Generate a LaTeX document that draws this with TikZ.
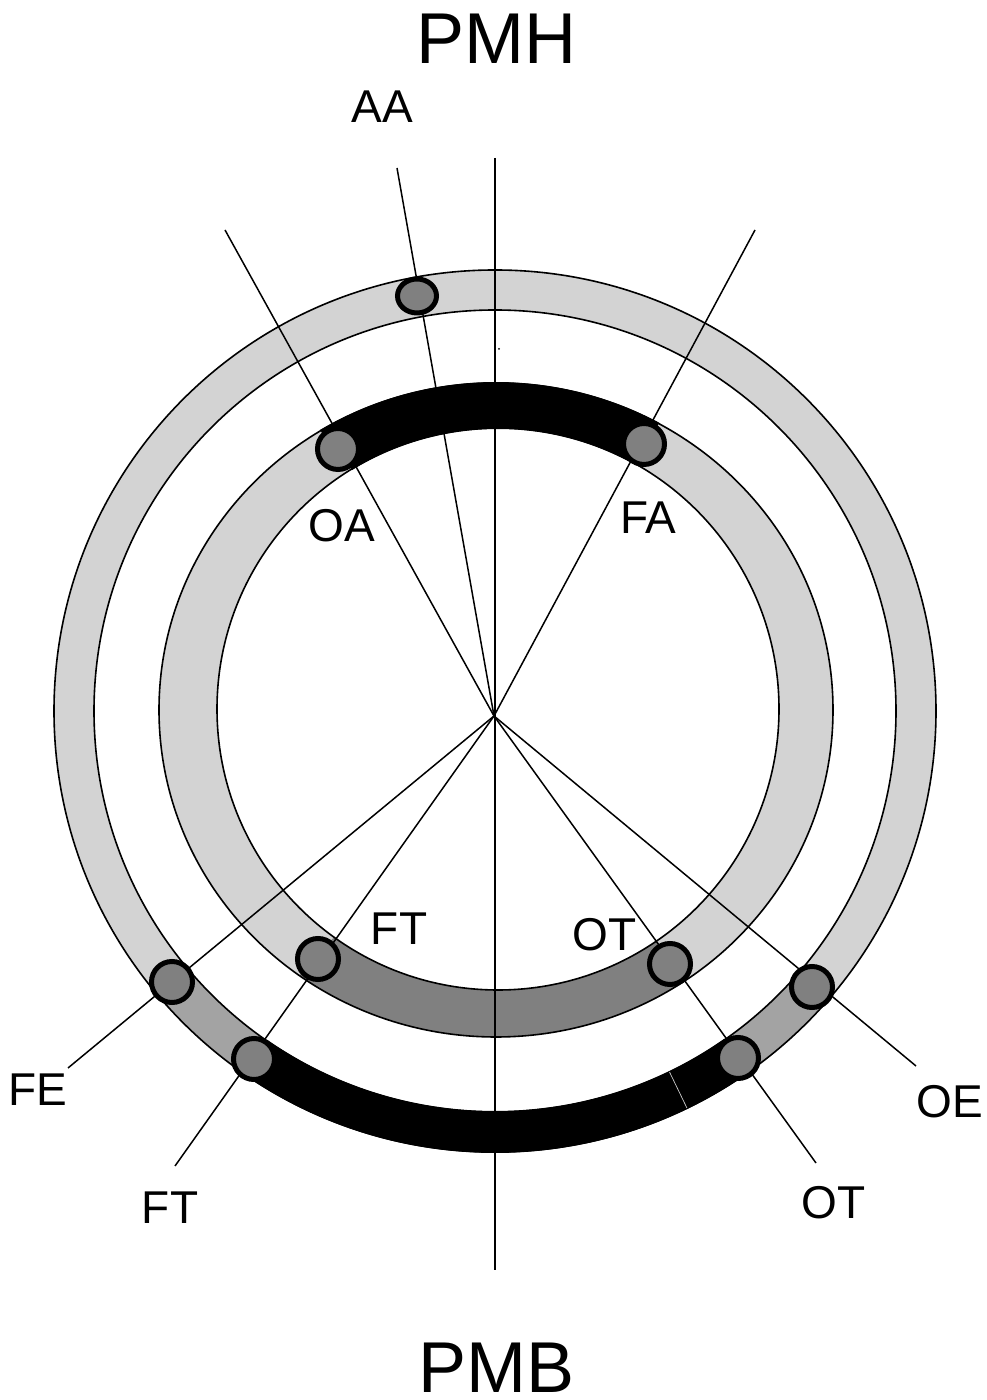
\documentclass[tikz,border=0pt]{standalone}
\usepackage{fontspec}
\setmainfont{Liberation Sans}
\usetikzlibrary{shapes.geometric,calc}
\definecolor{lg}{HTML}{D3D3D3}
\definecolor{mg}{HTML}{A3A3A3}
\definecolor{dg}{HTML}{808080}
\begin{document}
\begin{tikzpicture}[x=1pt,y=1pt,
 ringline/.style={draw=black,line width=1.6pt},
 ray/.style={draw=black,line width=1.5pt},
 dotc/.style={circle,draw=black,line width=5pt,fill=dg,minimum size=41pt,inner sep=0pt},
 dote/.style={ellipse,draw=black,line width=5pt,fill=dg,minimum width=39pt,minimum height=34pt,inner sep=0pt},
 big/.style={font=\fontsize{72}{80}\selectfont,anchor=base,inner sep=0pt},
 lab/.style={font=\fontsize{46}{52}\selectfont,anchor=base,inner sep=0pt}]
\useasboundingbox (0,0) rectangle (987,1400);
\coordinate (Co) at (495,689);
\coordinate (Ci) at (496,690);
\coordinate (Cj) at (498,691);
\coordinate (L) at (494,684);
% ray end points
\coordinate (eAA) at (397,1232);
\coordinate (eOA) at (225,1170);
\coordinate (eFA) at (755,1170);
\coordinate (vtop) at (495,1242);
\coordinate (vbot) at (495,130);
\coordinate (eFE) at (68,332);
\coordinate (eFT) at (175,234);
\coordinate (eOT) at (816,237);
\coordinate (eOE) at (916,334);

% ring fills
\fill[lg,even odd rule] (Co) circle[radius=441] (Co) circle[radius=401];
\fill[lg,even odd rule] (Ci) ellipse[x radius=337,y radius=327] (Cj) circle[radius=281];

% medium grey segments on outer ring
\fill[mg] (Co) ++(220:441) arc[start angle=220,end angle=235.3,radius=441]
  -- ($(Co)+(235.3:401)$) arc[start angle=235.3,end angle=220,radius=401] -- cycle;
\fill[mg] (Co) ++(305:441) arc[start angle=305,end angle=319,radius=441]
  -- ($(Co)+(319:401)$) arc[start angle=319,end angle=305,radius=401] -- cycle;
% dark grey segment on inner ring
\fill[dg] (Ci) ++(234.3:337 and 327) arc[start angle=234.3,end angle=304.3,x radius=337,y radius=327]
  -- ($(Cj)+(304.3:281)$) arc[start angle=304.3,end angle=234.3,radius=281] -- cycle;

% ring borders
\draw[ringline] (Co) circle[radius=441];
\draw[ringline] (Co) circle[radius=401];
\draw[ringline] (Ci) ellipse[x radius=337,y radius=327];
\draw[ringline] (Cj) circle[radius=281];

% rays
\draw[ray] (vtop) -- (vbot);
\draw[ray] (L) -- (eAA);
\draw[ray] (L) -- (eOA);
\draw[ray] (L) -- (eFA);
\draw[ray] (L) -- (eFE);
\draw[ray] (L) -- (eFT);
\draw[ray] (L) -- (eOT);
\draw[ray] (L) -- (eOE);

% black arcs
\fill[black] (Co) ++(235.3:442) arc[start angle=235.3,end angle=305,radius=442]
  -- ($(Co)+(305:400)$) arc[start angle=305,end angle=235.3,radius=400] -- cycle;
\fill[black] (Ci) ++(61.1:338 and 328) arc[start angle=61.1,end angle=121.4,x radius=338,y radius=328]
  -- ($(Cj)+(121.4:280)$) arc[start angle=121.4,end angle=61.1,radius=280] -- cycle;
\draw[gray!40,line width=0.7pt] ($(Co)+(-64.2:401)$) -- ($(Co)+(-64.2:441)$);

% stray point
\fill[black] (499,1051) circle[radius=1];

% dots
\node[dote] (dAA) at (417,1104) {};
\node[dotc] (dOA) at (338,951) {};
\node[dotc] (dFA) at (644,956) {};
\node[dotc] (dFTi) at (318,441) {};
\node[dotc] (dOTi) at (670,436) {};
\node[dotc] (dFE) at (172,418) {};
\node[dotc] (dFTo) at (254,341) {};
\node[dotc] (dOTo) at (738,342) {};
\node[dotc] (dOE) at (812,413) {};

% labels
\node[big] (tPMH) at (496.5,1336) {PMH};
\node[big] (tPMB) at (496.5,8) {PMB};
\node[lab] (tAA) at (382,1277) {AA};
\node[lab] (tOA) at (341.5,858) {OA};
\node[lab] (tFA) at (648.5,866) {FA};
\node[lab] (tFTi) at (399,455) {FT};
\node[lab] (tOTi) at (604.5,449) {OT};
\node[lab] (tFE) at (37.5,294) {FE};
\node[lab] (tFTo) at (170,176) {FT};
\node[lab] (tOE) at (950,282) {OE};
\node[lab] (tOTo) at (833.5,181) {OT};
\end{tikzpicture}
\end{document}
